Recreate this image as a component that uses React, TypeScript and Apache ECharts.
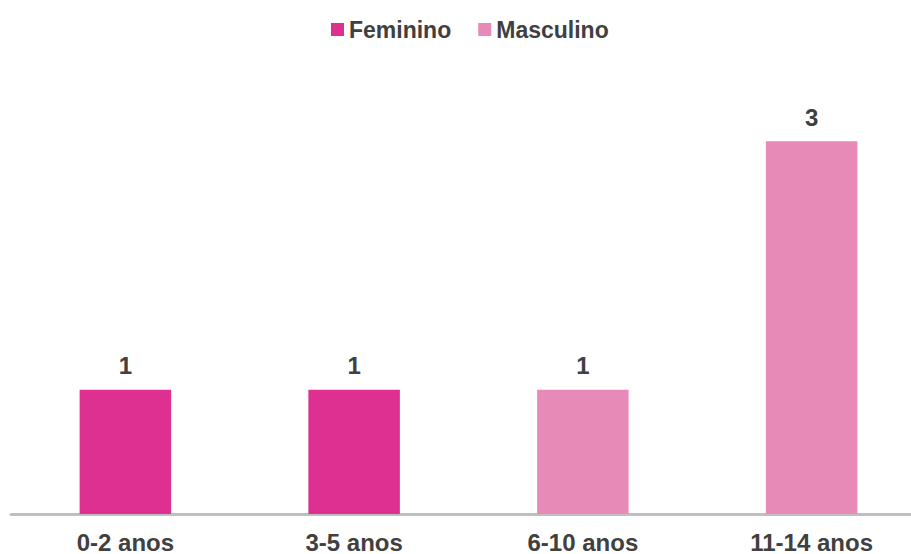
import React, { useEffect, useRef } from "react";
import * as echarts from "echarts";

const categories = ["0-2 anos", "3-5 anos", "6-10 anos", "11-14 anos"];
const feminino: (number | null)[] = [1, 1, null, null];
const masculino: (number | null)[] = [null, null, 1, 3];
const seriesNames = ["Feminino", "Masculino"];

export default function App() {
  const ref = useRef<HTMLDivElement>(null);
  useEffect(() => {
    const chart = echarts.init(ref.current!, null, { renderer: "svg" });
    const font = "Arial, 'Liberation Sans', sans-serif";
    const label = {
      show: true,
      position: "top",
      distance: 12,
      color: "#404040",
      fontWeight: "bold",
      fontSize: 24,
      fontFamily: font,
    };
    chart.setOption({
      animation: false,
      textStyle: { fontFamily: font },
      legend: {
        left: 326,
        top: 13,
        itemWidth: 13,
        itemHeight: 13,
        itemGap: 27,
        icon: "rect",
        textStyle: { color: "#404040", fontWeight: "bold", fontSize: 23, fontFamily: font },
        data: seriesNames,
      },
      grid: { left: 11, right: 0, bottom: 40, top: 17 },
      xAxis: {
        type: "category",
        data: categories,
        axisLine: { lineStyle: { color: "#BFBFBF", width: 3 } },
        axisTick: { show: false },
        axisLabel: { color: "#404040", fontWeight: "bold", fontSize: 24, margin: 16, fontFamily: font },
      },
      yAxis: { type: "value", min: 0, max: 4, show: false, splitLine: { show: false } },
      series: [
        {
          name: seriesNames[0],
          type: "bar",
          stack: "total",
          barWidth: "40%",
          data: feminino,
          itemStyle: { color: "#DE3091" },
          label,
        },
        {
          name: seriesNames[1],
          type: "bar",
          stack: "total",
          barWidth: "40%",
          data: masculino,
          itemStyle: { color: "#E78AB8" },
          label,
        },
      ],
    });
    return () => chart.dispose();
  }, []);
  return (
    <div style={{ width: 911, height: 554, position: "absolute", left: 0, top: 0, overflow: "hidden" }}>
      <div ref={ref} style={{ width: 926, height: 554 }} />
    </div>
  );
}
